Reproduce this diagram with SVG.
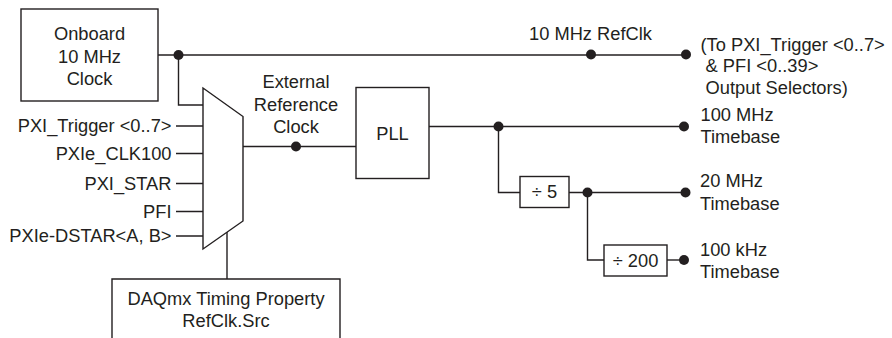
<svg xmlns="http://www.w3.org/2000/svg" width="892" height="338" viewBox="0 0 892 338">
<style>
.box{fill:#fff;stroke:#231f20;stroke-width:1.4}
.ln{fill:none;stroke:#231f20;stroke-width:1.4}
.dot{fill:#231f20}
text{font-family:"Liberation Sans",Arial,sans-serif;font-size:18.3px;fill:#231f20}
.c{text-anchor:middle}
.r{text-anchor:end}
</style>
<rect width="892" height="338" fill="#fff"/>
<g id="connectors">
<path class="ln" d="M158 55 H686"/>
<path class="ln" d="M178.5 55 V105 H203"/>
<path class="ln" d="M176 126 H203 M176 153.5 H203 M176 183.5 H203 M176 211.5 H203 M176 236 H203"/>
<path class="ln" d="M243 146.5 H356"/>
<path class="ln" d="M429 126.5 H685"/>
<path class="ln" d="M498.5 126.5 V192.5 H520"/>
<path class="ln" d="M569 192.5 H686"/>
<path class="ln" d="M587.5 192.5 V260 H604"/>
<path class="ln" d="M667 260 H684"/>
<path class="ln" d="M227 232 V279"/>
<circle class="dot" cx="178.5" cy="55" r="5"/>
<circle class="dot" cx="591" cy="54.5" r="5"/>
<circle class="dot" cx="686" cy="54.5" r="5"/>
<circle class="dot" cx="296" cy="146.5" r="5"/>
<circle class="dot" cx="498.5" cy="126.5" r="5"/>
<circle class="dot" cx="684" cy="126.5" r="5"/>
<circle class="dot" cx="587.5" cy="192.5" r="5"/>
<circle class="dot" cx="685.5" cy="192.5" r="5"/>
<circle class="dot" cx="684" cy="260" r="5"/>
</g>
<g id="onboard">
<rect class="box" x="21" y="9" width="137" height="92"/>
<text class="c" x="89.5" y="40">Onboard</text>
<text class="c" x="89.5" y="62.5">10 MHz</text>
<text class="c" x="89.5" y="85">Clock</text>
</g>
<g id="mux">
<polygon class="box" points="203,88 243,116.5 243,221 203,249"/>
</g>
<g id="inputs">
<text class="r" x="171.5" y="132">PXI_Trigger &lt;0..7&gt;</text>
<text class="r" x="171.5" y="159.5">PXIe_CLK100</text>
<text class="r" x="171.5" y="189.5">PXI_STAR</text>
<text class="r" x="171.5" y="217.5">PFI</text>
<text class="r" x="171.5" y="242">PXIe-DSTAR&lt;A, B&gt;</text>
</g>
<g id="extref">
<text class="c" x="296" y="88">External</text>
<text class="c" x="296" y="110.5">Reference</text>
<text class="c" x="296" y="133">Clock</text>
</g>
<g id="pll">
<rect class="box" x="356" y="87.5" width="73" height="91"/>
<text class="c" x="392.5" y="139.5">PLL</text>
</g>
<g id="div5">
<rect class="box" x="520" y="176.5" width="49" height="31"/>
<text class="c" x="544.5" y="198">÷ 5</text>
</g>
<g id="div200">
<rect class="box" x="604" y="245" width="63" height="31"/>
<text class="c" x="635.5" y="266.5">÷ 200</text>
</g>
<g id="daqmx">
<path class="box" d="M112 338 V279 H340 V338"/>
<text class="c" x="226" y="305">DAQmx Timing Property</text>
<text class="c" x="226" y="327">RefClk.Src</text>
</g>
<g id="labels">
<text x="529" y="40">10 MHz RefClk</text>
<text x="700.5" y="51">(To PXI_Trigger &lt;0..7&gt;</text>
<text x="700.5" y="72" xml:space="preserve"> &amp; PFI &lt;0..39&gt;</text>
<text x="700.5" y="93.5" xml:space="preserve"> Output Selectors)</text>
<text x="700.5" y="121">100 MHz</text>
<text x="700.5" y="143">Timebase</text>
<text x="700" y="187">20 MHz</text>
<text x="700" y="209.5">Timebase</text>
<text x="700" y="255.5">100 kHz</text>
<text x="700" y="277.5">Timebase</text>
</g>
</svg>
